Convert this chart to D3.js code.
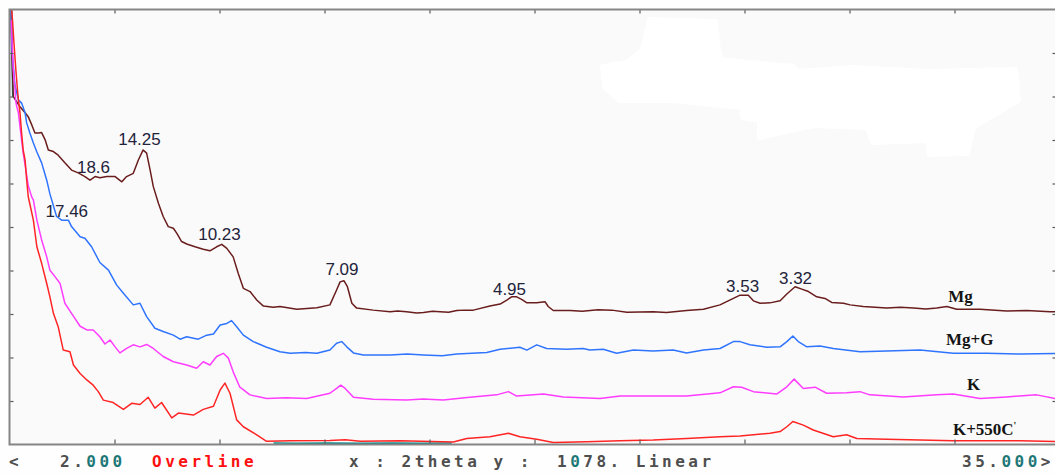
<!DOCTYPE html>
<html>
<head>
<meta charset="utf-8">
<script src="https://cdn.jsdelivr.net/npm/d3@7"></script>
<style>
  html, body { margin: 0; padding: 0; background: #ffffff; }
  svg { display: block; }
</style>
</head>
<body>
<svg id="chart" width="1055" height="474"></svg>
<script>
// X-ray diffraction patterns of the clay fraction (Cu K-alpha), overlaid.
const WAVELENGTH = 1.5406;          // Cu K-alpha, angstrom
const xDomain = [2, 35];            // 2theta, degrees
const yDomain = [0, 1078];          // counts (full scale)

const xTickValues = [5.3, 8.6, 11.9, 15.2, 18.5, 21.8, 25.1, 28.4, 31.7];
const yTickValues = [107.8, 215.6, 323.4, 431.2, 539, 646.8, 754.6, 862.4, 970.2];

// [2theta, counts]
const mgPattern = [[2.03,1100],[2.08,953],[2.12,862],[2.33,837],[2.49,822],[2.59,812],[2.70,792],[2.80,772],[2.91,772],[3.01,773],[3.12,755],[3.22,730],[3.38,726],[3.53,717],[3.74,698],[3.95,680],[4.16,673],[4.37,664],[4.53,655],[4.69,664],[4.84,661],[5.06,664],[5.32,664],[5.53,651],[5.68,664],[5.89,672],[6.05,705],[6.20,730],[6.31,722],[6.42,680],[6.52,639],[6.68,598],[6.83,565],[6.99,540],[7.15,536],[7.26,523],[7.41,503],[7.57,497],[7.83,490],[8.09,484],[8.30,480],[8.51,490],[8.67,496],[8.83,486],[9.03,465],[9.19,424],[9.35,387],[9.56,379],[9.77,358],[9.98,343],[10.29,340],[10.50,342],[11.03,335],[11.66,339],[12.07,346],[12.28,383],[12.39,403],[12.51,406],[12.62,391],[12.76,350],[12.91,338],[13.43,333],[13.96,329],[14.20,331],[14.48,329],[14.80,326],[15.01,327],[15.30,330],[15.53,329],[15.80,328],[16.06,332],[16.30,333],[16.58,333],[17.10,343],[17.42,348],[17.63,358],[17.78,366],[17.94,366],[18.11,359],[18.26,351],[18.57,351],[18.83,354],[18.93,342],[19.09,332],[19.62,332],[20.00,330],[20.50,334],[20.93,333],[21.40,328],[22.23,329],[22.65,327],[23.28,332],[23.81,335],[24.33,346],[24.75,362],[24.96,370],[25.22,370],[25.38,356],[25.59,350],[25.90,351],[26.22,356],[26.43,373],[26.69,391],[26.90,385],[27.11,379],[27.37,366],[27.63,362],[27.84,352],[28.21,350],[28.42,346],[28.83,342],[29.57,338],[30.00,340],[30.41,338],[30.80,336],[31.14,338],[31.46,342],[31.77,335],[32.50,335],[33.34,331],[33.97,332],[34.70,329],[35.00,329]];

const mgGlycolPattern = [[2.03,1100],[2.08,978],[2.17,891],[2.28,854],[2.38,846],[2.49,822],[2.54,797],[2.64,772],[2.75,747],[2.86,725],[3.01,698],[3.17,655],[3.27,621],[3.48,565],[3.64,556],[3.85,556],[3.95,540],[4.22,515],[4.37,511],[4.58,490],[4.84,451],[5.11,432],[5.37,395],[5.58,375],[5.89,346],[6.10,350],[6.31,317],[6.57,288],[6.83,280],[7.15,271],[7.36,261],[7.57,267],[7.93,261],[8.20,271],[8.41,274],[8.62,296],[8.83,300],[8.98,307],[9.14,292],[9.35,271],[9.66,255],[10.08,241],[10.50,230],[10.82,226],[11.30,228],[11.66,226],[12.07,234],[12.28,251],[12.44,255],[12.60,242],[12.81,227],[13.12,222],[13.96,222],[14.50,224],[15.01,222],[15.60,220],[16.06,224],[17.00,228],[17.42,236],[18.04,241],[18.26,234],[18.57,247],[18.88,238],[19.51,236],[20.03,238],[20.24,234],[20.66,236],[21.08,226],[21.61,234],[22.23,232],[22.86,234],[23.28,227],[23.81,234],[24.33,238],[24.75,255],[24.96,255],[25.27,247],[25.80,241],[26.22,242],[26.43,255],[26.62,269],[26.79,255],[27.06,242],[27.47,244],[27.89,238],[28.73,230],[29.57,232],[30.62,234],[31.66,226],[32.71,226],[33.76,224],[35.00,226]];

const kPattern = [[2.05,1052],[2.12,928],[2.17,886],[2.19,854],[2.23,837],[2.28,822],[2.33,788],[2.38,755],[2.43,722],[2.49,693],[2.59,641],[2.70,613],[2.75,606],[2.86,556],[3.01,507],[3.17,465],[3.27,432],[3.43,416],[3.59,399],[3.74,350],[3.95,325],[4.22,293],[4.43,284],[4.63,284],[4.84,267],[5.00,249],[5.16,259],[5.32,242],[5.47,227],[5.68,238],[5.89,247],[6.10,242],[6.31,248],[6.52,238],[6.83,218],[7.15,205],[7.57,197],[7.88,189],[8.09,205],[8.30,197],[8.51,218],[8.72,226],[8.88,214],[9.03,180],[9.24,142],[9.56,123],[10.08,114],[10.70,116],[11.34,114],[12.07,127],[12.28,139],[12.41,147],[12.55,139],[12.81,117],[13.43,112],[14.48,110],[15.00,113],[15.63,110],[16.47,117],[17.31,123],[17.68,131],[17.94,120],[18.78,125],[19.41,118],[20.56,114],[21.19,120],[22.23,120],[23.28,120],[24.33,128],[24.75,143],[25.01,142],[25.38,131],[26.11,125],[26.43,143],[26.66,162],[26.95,139],[27.32,142],[27.68,127],[28.31,128],[28.73,131],[29.04,123],[30.09,118],[31.14,123],[31.66,125],[32.50,114],[33.34,118],[34.28,123],[35.00,112]];

const k550Pattern = [[2.03,1151],[2.07,1077],[2.10,1045],[2.14,995],[2.20,928],[2.25,879],[2.28,854],[2.33,822],[2.38,772],[2.43,730],[2.49,705],[2.54,655],[2.59,614],[2.75,556],[2.86,490],[3.01,449],[3.17,399],[3.27,366],[3.38,325],[3.53,292],[3.69,234],[3.90,230],[4.01,197],[4.22,176],[4.43,160],[4.63,147],[4.79,131],[4.95,110],[5.26,104],[5.58,87],[5.84,102],[6.10,99],[6.36,117],[6.57,90],[6.78,104],[7.10,66],[7.31,78],[7.78,73],[8.09,87],[8.41,95],[8.62,135],[8.77,152],[8.93,127],[9.14,61],[9.35,44],[9.77,24],[10.08,8],[10.82,9],[12.07,10],[12.55,12],[13.02,8],[14.27,9],[15.95,6],[16.37,15],[17.10,19],[17.68,28],[18.04,19],[18.57,13],[19.09,5],[20.14,7],[21.19,9],[22.23,11],[23.28,15],[24.33,19],[24.96,21],[25.90,28],[26.22,32],[26.43,44],[26.62,57],[26.95,48],[27.26,36],[27.89,19],[28.31,24],[28.63,15],[29.57,13],[30.62,11],[31.66,9],[32.71,9],[33.76,9],[35.00,7]];

// background trace: only its start and a low stretch are seen
const blankPattern = [[2.06,1126],[2.075,1052],[2.085,953],[2.10,862],[2.15,null],[10.29,null],[10.30,4],[11.00,3],[12.00,4],[13.00,3],[14.00,4],[15.00,3],[15.90,4],[15.95,null]];

const seriesNames = ["blank", "Mg", "Mg+G", "K", "K+550C"];
const seriesData = { "blank": blankPattern, "Mg": mgPattern, "Mg+G": mgGlycolPattern, "K": kPattern, "K+550C": k550Pattern };

// d-spacings (angstrom) marked on the patterns, and the pattern each belongs to
const peakSpacings = ["18.6", "14.25", "10.23", "7.09", "4.95", "3.53", "3.32", "17.46"];
const peakSeries   = ["Mg", "Mg", "Mg", "Mg", "Mg", "Mg", "Mg", "Mg+G"];

// ---- styling / layout ----
const seriesColor = { "blank": "#0b8a8a", "Mg": "#6a1d1d", "Mg+G": "#2f74ff", "K": "#ff3cff", "K+550C": "#ff2525" };
const peakLabelNudge = {   // [dx, dy] in px from the point on the curve
  "18.6": [-3.4, -4.5], "14.25": [-3.6, -5.4], "10.23": [-1.2, -4.8], "7.09": [-0.8, -5.9],
  "4.95": [-6.1, -1.8], "3.53": [-5.4, -3.2], "3.32": [-4.1, -4.3], "17.46": [-40, -51.6]
};
const seriesLabelPlace = { // [2theta where the label starts, dy from the curve]
  "Mg": [31.50, -5], "Mg+G": [31.43, -7.4], "K": [32.09, -6.7], "K+550C": [31.65, -5.9]
};

const W = 1055, H = 474;
const plot = { left: 9.5, top: 9.5, right: 1059.5, bottom: 444.5 };

const svg = d3.select("#chart");
const x = d3.scaleLinear().domain(xDomain).range([plot.left, plot.right]);
const y = d3.scaleLinear().domain(yDomain).range([plot.bottom, plot.top]);

const braggTwoTheta = d => 2 * Math.asin(WAVELENGTH / (2 * d)) * 180 / Math.PI;
function valueAt(data, t) {
  const pts = data.filter(p => p[1] != null);
  const i = d3.bisector(p => p[0]).left(pts, t);
  if (i <= 0) return pts[0][1];
  if (i >= pts.length) return pts[pts.length - 1][1];
  const a = pts[i - 1], b = pts[i];
  return a[1] + (b[1] - a[1]) * (t - a[0]) / (b[0] - a[0]);
}

svg.append("rect").attr("width", W).attr("height", H).attr("fill", "#fefefe");
svg.append("rect")
  .attr("x", plot.left).attr("y", plot.top)
  .attr("width", plot.right - plot.left).attr("height", plot.bottom - plot.top)
  .attr("fill", "#fafafa");

// whited-out patch in the upper right of the plot
const patch = [[650,20],[715,22],[717,43],[720,60],[793,67],[797,72],[853,68],[927,72],[1015,70],[1018,100],[993,115],[973,127],[967,153],[930,154],[928,140],[873,142],[868,127],[813,125],[760,137],[760,120],[743,117],[742,107],[700,103],[673,100],[620,100],[605,87],[603,67],[627,63],[643,50],[647,33]];
svg.append("path")
  .attr("d", d3.line().curve(d3.curveLinearClosed)(patch))
  .attr("fill", "#ffffff").attr("stroke", "#ffffff")
  .attr("stroke-width", 6).attr("stroke-linejoin", "round");

svg.append("clipPath").attr("id", "plot-clip")
  .append("rect")
  .attr("x", plot.left).attr("y", plot.top)
  .attr("width", plot.right - plot.left).attr("height", plot.bottom - plot.top);

const line = d3.line()
  .defined(d => d[1] != null)
  .x(d => x(d[0]))
  .y(d => y(d[1]));

const traces = svg.append("g").attr("clip-path", "url(#plot-clip)");
seriesNames.forEach(name => {
  traces.append("path")
    .datum(seriesData[name])
    .attr("d", line)
    .attr("fill", "none")
    .attr("stroke", seriesColor[name])
    .attr("stroke-width", 1.5)
    .attr("stroke-linejoin", "round");
});

// frame and inward ticks
const axisStyle = g => {
  g.select(".domain").remove();
  g.selectAll(".tick line").attr("stroke", "#5a5a5a").attr("stroke-width", 1.2);
  g.selectAll(".tick text").remove();
};
svg.append("g").attr("transform", `translate(0,${plot.top})`)
  .call(d3.axisBottom(x).tickValues(xTickValues).tickSize(4).tickFormat("")).call(axisStyle);
svg.append("g").attr("transform", `translate(0,${plot.bottom})`)
  .call(d3.axisTop(x).tickValues(xTickValues).tickSize(5).tickFormat("")).call(axisStyle);
svg.append("g").attr("transform", `translate(${plot.left},0)`)
  .call(d3.axisRight(y).tickValues(yTickValues).tickSize(4).tickFormat("")).call(axisStyle);
svg.append("g").attr("transform", `translate(${plot.right},0)`)
  .call(d3.axisLeft(y).tickValues(yTickValues).tickSize(7).tickFormat("")).call(axisStyle);

svg.append("rect")
  .attr("x", plot.left).attr("y", plot.top)
  .attr("width", plot.right - plot.left).attr("height", plot.bottom - plot.top)
  .attr("fill", "none").attr("stroke", "#858585").attr("stroke-width", 2);

// d-spacing labels at the Bragg angle of each spacing
peakSpacings.forEach((d, i) => {
  const t = braggTwoTheta(+d);
  const v = valueAt(seriesData[peakSeries[i]], t);
  const [dx, dy] = peakLabelNudge[d];
  svg.append("text")
    .attr("x", x(t) + dx).attr("y", y(v) + dy)
    .attr("text-anchor", "middle")
    .style("font-family", "'Liberation Sans', Arial, sans-serif")
    .style("font-size", "17px")
    .attr("fill", "#23233a")
    .text(d);
});

// pattern names
["Mg", "Mg+G", "K", "K+550C"].forEach(name => {
  const [t, dy] = seriesLabelPlace[name];
  const v = valueAt(seriesData[name], t);
  const txt = svg.append("text")
    .attr("x", x(t)).attr("y", y(v) + dy)
    .style("font-family", "'Liberation Serif', 'Times New Roman', serif")
    .style("font-weight", "bold")
    .style("font-size", "17px")
    .attr("fill", "#141414")
    .text(name);
  if (name === "K+550C") {
    txt.append("tspan").attr("dy", -6).style("font-size", "10px").text("'");
  }
});

// status line
const grey = "#4e4e4e", teal = "#1f7878", red = "#ff1010";
const statusParts = [
  { x: 9,   parts: [["<", grey]] },
  { x: 60,  parts: [["2.", grey], ["000", teal]] },
  { x: 152, parts: [["Overline", red]] },
  { x: 349, parts: [["x : 2theta y :", grey]] },
  { x: 557, parts: [["1", grey], ["0", teal], ["78. Linear", grey]] },
  { x: 962, parts: [["35.", grey], ["000", teal], [">", grey]] }
];
statusParts.forEach(s => {
  const t = svg.append("text")
    .attr("x", s.x).attr("y", 467)
    .attr("xml:space", "preserve")
    .style("font-family", "'DejaVu Sans Mono', 'Liberation Mono', monospace")
    .style("font-weight", "bold")
    .style("font-size", "16px")
    .style("letter-spacing", "3.5px");
  s.parts.forEach(([str, col]) => t.append("tspan").attr("fill", col).text(str));
});
</script>
</body>
</html>
